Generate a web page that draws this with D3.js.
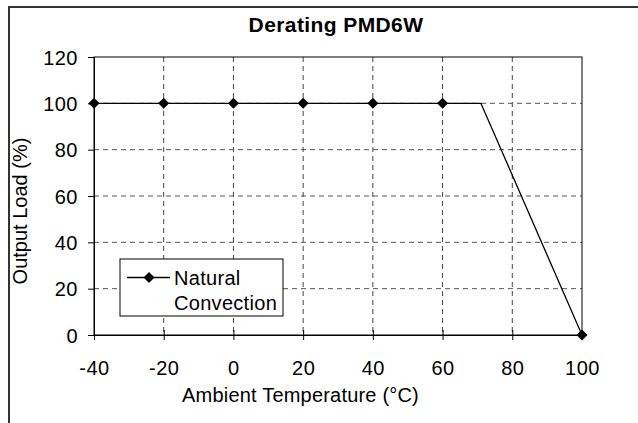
<!DOCTYPE html>
<html>
<head>
<meta charset="utf-8">
<script src="https://cdn.jsdelivr.net/npm/d3@7"></script>
<style>
  body { margin: 0; background: #fff; }
  text { font-family: "Liberation Sans", Arial, sans-serif; fill: #000; }
</style>
</head>
<body>
<script>
// data
var temps = [-40, -20, 0, 20, 40, 60, 71, 100];
var loads = [100, 100, 100, 100, 100, 100, 100, 0];
var hasMarker = [true, true, true, true, true, true, false, true];
var xTicks = [-40, -20, 0, 20, 40, 60, 80, 100];
var yTicks = [0, 20, 40, 60, 80, 100, 120];
var seriesName = ["Natural", "Convection"];

var svgWidth = 638;
var svgHeight = 423;

var margin = { top: 57, right: 56, bottom: 88, left: 94 };
var width = 582 - margin.left;
var height = 335 - margin.top;

var svg = d3.select("body")
  .append("svg")
  .attr("width", svgWidth)
  .attr("height", svgHeight);

// outer frame (only left/top show)
svg.append("rect")
  .attr("x", 9).attr("y", 7)
  .attr("width", 700).attr("height", 500)
  .attr("fill", "none")
  .attr("stroke", "#333")
  .attr("stroke-width", 2);

var chartGroup = svg.append("g")
  .attr("transform", `translate(${margin.left}, ${margin.top})`);

var x = d3.scaleLinear().domain([-40, 100]).range([0, width]);
var y = d3.scaleLinear().domain([0, 120]).range([height, 0]);

// gridlines
chartGroup.selectAll(".vgrid")
  .data(xTicks.slice(1, -1))
  .enter().append("line")
  .attr("x1", d => x(d)).attr("x2", d => x(d))
  .attr("y1", 0).attr("y2", height)
  .attr("stroke", "#444")
  .attr("stroke-dasharray", "5,4");

chartGroup.selectAll(".hgrid")
  .data(yTicks.slice(1, -1))
  .enter().append("line")
  .attr("x1", 0).attr("x2", width)
  .attr("y1", d => y(d)).attr("y2", d => y(d))
  .attr("stroke", "#555")
  .attr("stroke-dasharray", "5,4");

// plot area border
chartGroup.append("rect")
  .attr("width", width).attr("height", height)
  .attr("fill", "none")
  .attr("stroke", "#000")
  .attr("stroke-width", 1);

// axes (plain hyphen for negatives, like the original)
var fmt = d => String(d);
var bottomAxis = d3.axisBottom(x).tickValues(xTicks).tickFormat(fmt).tickSize(5);
var leftAxis = d3.axisLeft(y).tickValues(yTicks).tickFormat(fmt).tickSize(6).tickPadding(10);

var xg = chartGroup.append("g")
  .attr("transform", `translate(0, ${height})`)
  .call(bottomAxis);
xg.selectAll(".tick line").attr("y1", -5).attr("stroke", "#000");

var yg = chartGroup.append("g").call(leftAxis);

[xg, yg].forEach(function(g) {
  g.select(".domain").attr("stroke", "#000");
  g.selectAll("text")
    .style("font-size", "20px")
    .style("font-family", "Liberation Sans, Arial, sans-serif")
    .style("letter-spacing", "0.5px")
    .attr("fill", "#000");
});
yg.selectAll("text").attr("dy", "0.36em");
xg.selectAll("text").attr("dy", "0.71em").attr("y", 26);

// series line
var pts = temps.map((t, i) => ({ t: t, v: loads[i], m: hasMarker[i] }));

var line = d3.line().x(d => x(d.t)).y(d => y(d.v));

chartGroup.append("path")
  .datum(pts)
  .attr("d", line)
  .attr("fill", "none")
  .attr("stroke", "#000")
  .attr("stroke-width", 1.3);

var diamond = "M0,-5.5L5.5,0L0,5.5L-5.5,0Z";

chartGroup.selectAll(".marker")
  .data(pts.filter(d => d.m))
  .enter().append("path")
  .attr("d", diamond)
  .attr("transform", d => `translate(${x(d.t)}, ${y(d.v)})`)
  .attr("fill", "#000");

// legend
var legend = svg.append("g");
legend.append("rect")
  .attr("x", 120).attr("y", 259)
  .attr("width", 163).attr("height", 57)
  .attr("fill", "#fff")
  .attr("stroke", "#000");
legend.append("line")
  .attr("x1", 127).attr("x2", 170)
  .attr("y1", 277.5).attr("y2", 277.5)
  .attr("stroke", "#000").attr("stroke-width", 1.3);
legend.append("path")
  .attr("d", diamond)
  .attr("transform", "translate(149, 277.5)")
  .attr("fill", "#000");
legend.selectAll(".ltext")
  .data(seriesName)
  .enter().append("text")
  .attr("x", 174)
  .attr("y", (d, i) => 285 + i * 25)
  .style("font-size", "20px")
  .style("letter-spacing", "0.3px")
  .text(d => d);

// title and axis labels
svg.append("text")
  .attr("x", 336).attr("y", 32)
  .attr("text-anchor", "middle")
  .style("font-size", "21px")
  .style("font-weight", "bold")
  .style("letter-spacing", "0.4px")
  .text("Derating PMD6W");

svg.append("text")
  .attr("x", 300.5).attr("y", 401.5)
  .attr("text-anchor", "middle")
  .style("font-size", "20px")
  .style("letter-spacing", "0.2px")
  .text("Ambient Temperature (°C)");

svg.append("text")
  .attr("transform", "translate(27, 211) rotate(-90)")
  .attr("text-anchor", "middle")
  .style("font-size", "20px")
  .text("Output Load (%)");
</script>
</body>
</html>
